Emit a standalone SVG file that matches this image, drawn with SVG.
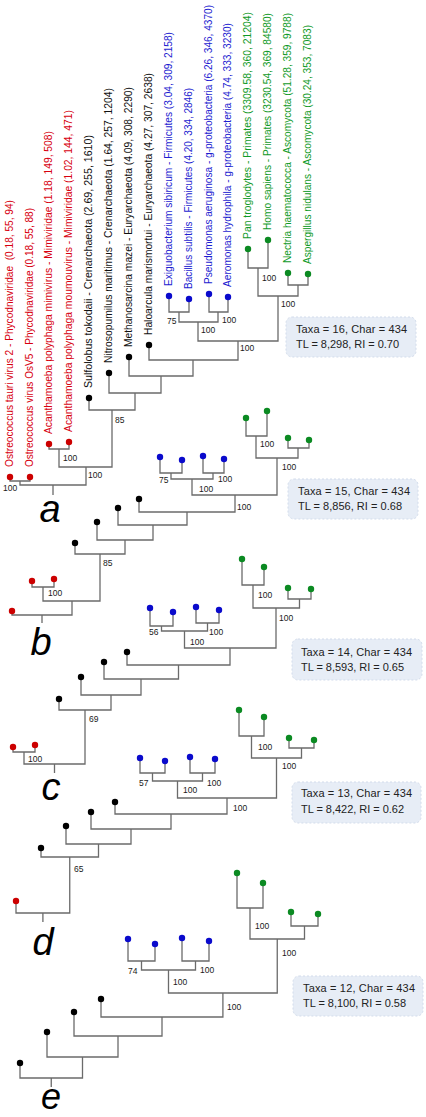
<svg xmlns="http://www.w3.org/2000/svg" width="426" height="1117" viewBox="0 0 426 1117">
<style>
text{font-family:"Liberation Sans",Arial,sans-serif}
.ln{fill:none;stroke:#6b6b6b;stroke-width:1.3}
.lab{font-size:10px}
.r{fill:#d7000f}.b{fill:#1c1cd0}.g{fill:#119a28}.k{fill:#111}
.dr{fill:#cc0000}.db{fill:#0a0acc}.dg{fill:#0b8a22}.dk{fill:#000}
.sup{font-size:8.5px;fill:#1a1a1a}
.box{fill:#e7edf6;stroke:#d3dceb;stroke-width:1;stroke-dasharray:2 2}
.bt{font-size:11px;fill:#222}
.let{font-size:38px;font-style:italic;fill:#000;text-anchor:middle}
</style>
<rect width="426" height="1117" fill="#fff"/>
<g id="connectors">
<path class="ln" d="M10 477V481H30V477M49 444V449H69V442M169 296V312H189V299M209 294V312H228V297M179 312V322H218V312M248 249V268H268V240M288 273V285H308V274M258 268V296H298V285M198 322V341H278V296M149 345V360H238V341M129 357V376H193V360M109 373V393H161V376M89 398V410H135V393M59 449V467H112V410M20 481V485H86V467M53 485V495"/>
<path class="ln" d="M246 418V436H267V411M288 438V448H309V440M256 436V458H298V448M160 457V473H182V460M203 456V473H224V459M171 473V479H213V473M192 479V495H277V458M139 499V512H235V495M118 508V525H187V512M97 522V540H153V525M75 543V554H125V540M32 581V587H54V579M43 587V601H100V554M12 611V615H72V601M42 615V623"/>
<path class="ln" d="M242 559V585H264V567M288 588V599H311V589M253 585V608H299.5V599M150 608V626H173V612M196 607V623H219V610M161.5 626V631H207.5V623M184.5 631V648H276V608M127 652V665H230V648M104 662V679H178.5V665M81 677V695H141V679M59 699V710H111V695M13 747V752H35V745M24 752V764H85V710M54.5 764V773"/>
<path class="ln" d="M239 710V736H264V717M289 738V748H314V740M251.5 736V758H301.5V748M140 758V773H165V761M190 757V773H215V759M152.5 773V781H202.5V773M177.5 781V798H276.5V758M115 802V814H227V798M91 812V829H171V814M66 826V844H131V829M41 848V857H98.5V844M16 901V913H69.75V857M42.9 913V922"/>
<path class="ln" d="M237 873V908H263V883M291 912V926H318V914M250 908V939H304.5V926M128 939V961H155V944M182 938V961H209V941M141.5 961V970H195.5V961M168.5 970V993H277.25V939M101 999V1017H222.9V993M74 1012V1036H162V1017M47 1032V1057H118V1036M20 1063V1078H82.5V1057M51.25 1078V1087"/>
</g>

<g id="tree-a">
<g id="a-ost-tauri"><circle class="dr" cx="10" cy="477" r="3.2"/><text class="lab r" transform="translate(13,467) rotate(-90)" textLength="267" lengthAdjust="spacingAndGlyphs" xml:space="preserve">Ostreococcus tauri virus 2 - Phycodnaviridae  (0.18, 55, 94)</text></g>
<g id="a-ost-osv5"><circle class="dr" cx="30" cy="477" r="3.2"/><text class="lab r" transform="translate(33,467) rotate(-90)" textLength="259" lengthAdjust="spacingAndGlyphs">Ostreococcus virus OsV5 - Phycodnaviridae (0.18, 55, 88)</text></g>
<g id="a-acan-mimi"><circle class="dr" cx="49" cy="444" r="3.2"/><text class="lab r" transform="translate(52,434) rotate(-90)" textLength="303" lengthAdjust="spacingAndGlyphs">Acanthamoeba polyphaga mimivirus - Mimiviridae (1.18, 149, 508)</text></g>
<g id="a-acan-moumou"><circle class="dr" cx="69" cy="442" r="3.2"/><text class="lab r" transform="translate(72,432) rotate(-90)" textLength="322" lengthAdjust="spacingAndGlyphs">Acanthamoeba polyphaga moumouvirus - Mimiviridae (1.02, 144, 471)</text></g>
<g id="a-sulfolobus"><circle class="dk" cx="89" cy="398" r="3.2"/><text class="lab k" transform="translate(92,388) rotate(-90)" textLength="253" lengthAdjust="spacingAndGlyphs">Sulfolobus tokodaii - Crenarchaeota (2.69, 255, 1610)</text></g>
<g id="a-nitrosopumilus"><circle class="dk" cx="109" cy="373" r="3.2"/><text class="lab k" transform="translate(112,363) rotate(-90)" textLength="275" lengthAdjust="spacingAndGlyphs">Nitrosopumilus maritimus - Crenarchaeota (1.64, 257, 1204)</text></g>
<g id="a-methanosarcina"><circle class="dk" cx="129" cy="357" r="3.2"/><text class="lab k" transform="translate(132,347) rotate(-90)" textLength="260" lengthAdjust="spacingAndGlyphs">Methanosarcina mazei - Euryarchaeota (4.09, 308, 2290)</text></g>
<g id="a-haloarcula"><circle class="dk" cx="149" cy="345" r="3.2"/><text class="lab k" transform="translate(152,335) rotate(-90)" textLength="262" lengthAdjust="spacingAndGlyphs">Haloarcula marismortui - Euryarchaeota (4.27, 307, 2638)</text></g>
<g id="a-exiguobacterium"><circle class="db" cx="169" cy="296" r="3.2"/><text class="lab b" transform="translate(172,286) rotate(-90)" textLength="254" lengthAdjust="spacingAndGlyphs">Exiguobacterium sibiricum - Firmicutes (3.04, 309, 2158)</text></g>
<g id="a-bacillus"><circle class="db" cx="189" cy="299" r="3.2"/><text class="lab b" transform="translate(192,289) rotate(-90)" textLength="201" lengthAdjust="spacingAndGlyphs">Bacillus subtilis - Firmicutes (4.20, 334, 2846)</text></g>
<g id="a-pseudomonas"><circle class="db" cx="209" cy="294" r="3.2"/><text class="lab b" transform="translate(212,284) rotate(-90)" textLength="279" lengthAdjust="spacingAndGlyphs">Pseudomonas aeruginosa - g-proteobacteria (6.26, 346, 4370)</text></g>
<g id="a-aeromonas"><circle class="db" cx="228" cy="297" r="3.2"/><text class="lab b" transform="translate(231,287) rotate(-90)" textLength="264" lengthAdjust="spacingAndGlyphs">Aeromonas hydrophila - g-proteobacteria (4.74, 333, 3230)</text></g>
<g id="a-pan"><circle class="dg" cx="248" cy="249" r="3.2"/><text class="lab g" transform="translate(251,239) rotate(-90)" textLength="227" lengthAdjust="spacingAndGlyphs">Pan troglodytes - Primates (3309.58, 360, 21204)</text></g>
<g id="a-homo"><circle class="dg" cx="268" cy="240" r="3.2"/><text class="lab g" transform="translate(271,230) rotate(-90)" textLength="217" lengthAdjust="spacingAndGlyphs">Homo sapiens - Primates (3230.54, 369, 84580)</text></g>
<g id="a-nectria"><circle class="dg" cx="288" cy="273" r="3.2"/><text class="lab g" transform="translate(291,263) rotate(-90)" textLength="250" lengthAdjust="spacingAndGlyphs">Nectria haematococca - Ascomycota (51.28, 359, 9788)</text></g>
<g id="a-aspergillus"><circle class="dg" cx="308" cy="274" r="3.2"/><text class="lab g" transform="translate(311,264) rotate(-90)" textLength="239" lengthAdjust="spacingAndGlyphs">Aspergillus nidulans - Ascomycota (30.24, 353, 7083)</text></g>
<g id="a-support">
<text class="sup" x="3" y="491">100</text>
<text class="sup" x="63" y="461">100</text>
<text class="sup" x="88" y="478">100</text>
<text class="sup" x="115" y="423">85</text>
<text class="sup" x="167" y="324">75</text>
<text class="sup" x="222" y="323">100</text>
<text class="sup" x="201" y="333">100</text>
<text class="sup" x="262" y="281">100</text>
<text class="sup" x="281" y="307">100</text>
<text class="sup" x="240" y="351">100</text>
</g>
<g id="a-info"><rect class="box" x="286" y="317" width="130" height="40" rx="6"/><text class="bt" x="296" y="333" textLength="111">Taxa = 16, Char = 434</text><text class="bt" x="296" y="348" textLength="103">TL = 8,298, RI = 0.70</text></g>
<text id="label-a" class="let" x="50" y="522">a</text>
</g>

<g id="tree-b">
<g id="b-tips">
<circle class="dr" cx="12" cy="611" r="3.2"/><circle class="dr" cx="32" cy="581" r="3.2"/><circle class="dr" cx="54" cy="579" r="3.2"/>
<circle class="dk" cx="75" cy="543" r="3.2"/><circle class="dk" cx="97" cy="522" r="3.2"/><circle class="dk" cx="118" cy="508" r="3.2"/><circle class="dk" cx="139" cy="499" r="3.2"/>
<circle class="db" cx="160" cy="457" r="3.2"/><circle class="db" cx="182" cy="460" r="3.2"/><circle class="db" cx="203" cy="456" r="3.2"/><circle class="db" cx="224" cy="459" r="3.2"/>
<circle class="dg" cx="246" cy="418" r="3.2"/><circle class="dg" cx="267" cy="411" r="3.2"/><circle class="dg" cx="288" cy="438" r="3.2"/><circle class="dg" cx="309" cy="440" r="3.2"/>
</g>
<g id="b-support">
<text class="sup" x="159" y="483">75</text>
<text class="sup" x="218" y="482">100</text>
<text class="sup" x="199" y="492">100</text>
<text class="sup" x="260" y="447">100</text>
<text class="sup" x="282" y="470">100</text>
<text class="sup" x="237" y="510">100</text>
<text class="sup" x="103" y="566">85</text>
<text class="sup" x="48" y="596">100</text>
</g>
<g id="b-info"><rect class="box" x="288" y="479" width="130" height="40" rx="6"/><text class="bt" x="298" y="495" textLength="112">Taxa = 15, Char = 434</text><text class="bt" x="298" y="510" textLength="104">TL = 8,856, RI = 0.68</text></g>
<text id="label-b" class="let" x="41" y="655">b</text>
</g>

<g id="tree-c">
<g id="c-tips">
<circle class="dr" cx="13" cy="747" r="3.2"/><circle class="dr" cx="35" cy="745" r="3.2"/>
<circle class="dk" cx="59" cy="699" r="3.2"/><circle class="dk" cx="81" cy="677" r="3.2"/><circle class="dk" cx="104" cy="662" r="3.2"/><circle class="dk" cx="127" cy="652" r="3.2"/>
<circle class="db" cx="150" cy="608" r="3.2"/><circle class="db" cx="173" cy="612" r="3.2"/><circle class="db" cx="196" cy="607" r="3.2"/><circle class="db" cx="219" cy="610" r="3.2"/>
<circle class="dg" cx="242" cy="559" r="3.2"/><circle class="dg" cx="264" cy="567" r="3.2"/><circle class="dg" cx="288" cy="588" r="3.2"/><circle class="dg" cx="311" cy="589" r="3.2"/>
</g>
<g id="c-support">
<text class="sup" x="258" y="598">100</text>
<text class="sup" x="279" y="621">100</text>
<text class="sup" x="149" y="635">56</text>
<text class="sup" x="209" y="635">100</text>
<text class="sup" x="190" y="645">100</text>
<text class="sup" x="89" y="722">69</text>
<text class="sup" x="28" y="762">100</text>
</g>
<g id="c-info"><rect class="box" x="292" y="639" width="130" height="41" rx="6"/><text class="bt" x="301" y="656" textLength="111">Taxa = 14, Char = 434</text><text class="bt" x="301" y="671" textLength="103">TL = 8,593, RI = 0.65</text></g>
<text id="label-c" class="let" x="51" y="800">c</text>
</g>

<g id="tree-d">
<g id="d-tips">
<circle class="dr" cx="16" cy="901" r="3.2"/>
<circle class="dk" cx="41" cy="848" r="3.2"/><circle class="dk" cx="66" cy="826" r="3.2"/><circle class="dk" cx="91" cy="812" r="3.2"/><circle class="dk" cx="115" cy="802" r="3.2"/>
<circle class="db" cx="140" cy="758" r="3.2"/><circle class="db" cx="165" cy="761" r="3.2"/><circle class="db" cx="190" cy="757" r="3.2"/><circle class="db" cx="215" cy="759" r="3.2"/>
<circle class="dg" cx="239" cy="710" r="3.2"/><circle class="dg" cx="264" cy="717" r="3.2"/><circle class="dg" cx="289" cy="738" r="3.2"/><circle class="dg" cx="314" cy="740" r="3.2"/>
</g>
<g id="d-support">
<text class="sup" x="258" y="750">100</text>
<text class="sup" x="282" y="769">100</text>
<text class="sup" x="139" y="786">57</text>
<text class="sup" x="207" y="786">100</text>
<text class="sup" x="183" y="793">100</text>
<text class="sup" x="233" y="811">100</text>
<text class="sup" x="74" y="872">65</text>
</g>
<g id="d-info"><rect class="box" x="292" y="782" width="129" height="41" rx="6"/><text class="bt" x="301" y="797" textLength="111">Taxa = 13, Char = 434</text><text class="bt" x="301" y="813" textLength="103">TL = 8,422, RI = 0.62</text></g>
<text id="label-d" class="let" x="43" y="955">d</text>
</g>

<g id="tree-e">
<g id="e-tips">
<circle class="dk" cx="20" cy="1063" r="3.2"/><circle class="dk" cx="47" cy="1032" r="3.2"/><circle class="dk" cx="74" cy="1012" r="3.2"/><circle class="dk" cx="101" cy="999" r="3.2"/>
<circle class="db" cx="128" cy="939" r="3.2"/><circle class="db" cx="155" cy="944" r="3.2"/><circle class="db" cx="182" cy="938" r="3.2"/><circle class="db" cx="209" cy="941" r="3.2"/>
<circle class="dg" cx="237" cy="873" r="3.2"/><circle class="dg" cx="263" cy="883" r="3.2"/><circle class="dg" cx="291" cy="912" r="3.2"/><circle class="dg" cx="318" cy="914" r="3.2"/>
</g>
<g id="e-support">
<text class="sup" x="255" y="929">100</text>
<text class="sup" x="282" y="956">100</text>
<text class="sup" x="128" y="974">74</text>
<text class="sup" x="200" y="973">100</text>
<text class="sup" x="173" y="985">100</text>
<text class="sup" x="227" y="1010">100</text>
</g>
<g id="e-info"><rect class="box" x="293" y="976" width="130" height="40" rx="6"/><text class="bt" x="303" y="992" textLength="112">Taxa = 12, Char = 434</text><text class="bt" x="303" y="1007" textLength="103">TL = 8,100, RI = 0.58</text></g>
<text id="label-e" class="let" x="51" y="1109" style="font-size:36px">e</text>
</g>
</svg>
